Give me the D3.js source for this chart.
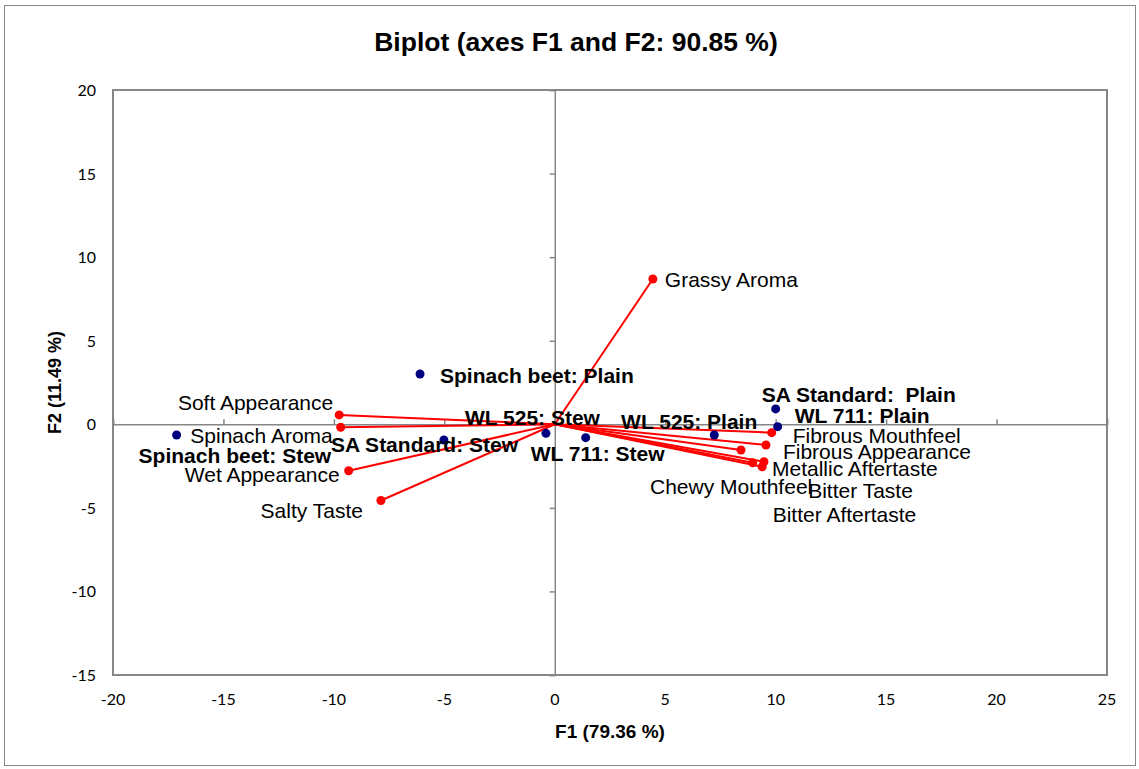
<!DOCTYPE html>
<html>
<head>
<meta charset="utf-8">
<script src="https://cdn.jsdelivr.net/npm/d3@7"></script>
<style>
  body { margin: 0; background: #fff; }
  svg { display: block; }
  text { font-family: "Liberation Sans", Arial, sans-serif; }
</style>
</head>
<body>
<svg id="chart" width="1139" height="769"></svg>
<script>
/*
BIPLOT
PCA biplot, observations and variables on F1 / F2
*/

// Observations (navy points)
var obsNames = ["Spinach beet: Plain", "SA Standard:  Plain", "WL 711: Plain", "WL 525: Plain",
  "WL 711: Stew", "WL 525: Stew", "SA Standard: Stew", "Spinach beet: Stew"];
var obsF1 = [-6.10, 10.00, 10.09, 7.22, 1.40, -0.40, -5.02, -17.12];
var obsF2 = [3.01, 0.92, -0.14, -0.64, -0.80, -0.54, -0.94, -0.64];

// Variables (red vectors)
var varNames = ["Grassy Aroma", "Soft Appearance", "Spinach Aroma", "Wet Appearance", "Salty Taste",
  "Fibrous Mouthfeel", "Fibrous Appearance", "Chewy Mouthfeel", "Metallic Aftertaste",
  "Bitter Taste", "Bitter Aftertaste"];
var varF1 = [4.44, -9.76, -9.69, -9.33, -7.87, 9.82, 9.56, 8.43, 9.47, 9.39, 8.96];
var varF2 = [8.69, 0.56, -0.18, -2.78, -4.56, -0.50, -1.24, -1.54, -2.24, -2.54, -2.30];

// Axis ticks
var xTicks = [-20, -15, -10, -5, 0, 5, 10, 15, 20, 25];
var yTicks = [-15, -10, -5, 0, 5, 10, 15, 20];

// Label placement (pixel offset from the point, text anchor)
var obsLabelPos = [[20, 2, "start"], [-14, -14, "start"], [17, -11, "start"], [43, -13, "end"],
  [-55, 16, "start"], [-81, -16, "start"], [-113, 5, "start"], [-38, 21, "start"]];
var varLabelPos = [[12, 1, "start"], [-6, -12, "end"], [-8, 8, "end"], [-9, 4, "end"], [-18, 10, "end"],
  [21, 3, "start"], [17, 7, "start"], [-91, 37, "start"], [8, 7, "start"],
  [46, 24, "start"], [20, 52, "start"]];

var AXIS_GREY = "#868686";

var svg = d3.select("#chart");

// Outer chart frame
svg.append("rect")
  .attr("x", 4.5)
  .attr("y", 5.5)
  .attr("width", 1131)
  .attr("height", 760)
  .style("fill", "none")
  .style("stroke", AXIS_GREY)
  .style("stroke-width", 1)
  ;

// Plot area
var plot = { left: 113, right: 1107, top: 90, bottom: 675 };

var x = d3.scaleLinear().domain([-20, 25]).range([plot.left, plot.right]);
var y = d3.scaleLinear().domain([-15, 20]).range([plot.bottom, plot.top]);

// Title
svg.append("text")
  .attr("x", 576)
  .attr("y", 51)
  .attr("text-anchor", "middle")
  .style("font-size", "26.5px")
  .style("font-weight", "bold")
  .text("Biplot (axes F1 and F2: 90.85 %)")
  ;

// Plot border
svg.append("rect")
  .attr("x", plot.left)
  .attr("y", plot.top)
  .attr("width", plot.right - plot.left)
  .attr("height", plot.bottom - plot.top)
  .style("fill", "none")
  .style("stroke", AXIS_GREY)
  .style("stroke-width", 2)
  ;

// Axes through the origin, ticks only
var xAxis = svg.append("g")
  .attr("class", "x axis")
  .attr("transform", translate(0, y(0)))
  .call(d3.axisTop(x).tickValues(xTicks).tickSize(5).tickFormat(""))
  ;

var yAxis = svg.append("g")
  .attr("class", "y axis")
  .attr("transform", translate(x(0), 0))
  .call(d3.axisLeft(y).tickValues(yTicks).tickSize(5).tickFormat(""))
  ;

svg.selectAll(".axis path, .axis line")
  .style("stroke", AXIS_GREY)
  .style("stroke-width", 1.5)
  ;

// Tick labels along the frame
svg.append("g").selectAll("text")
  .data(xTicks)
  .enter().append("text")
    .attr("x", function(d) { return x(d); })
    .attr("y", 705)
    .attr("text-anchor", "middle")
    .style("font-family", "Lato, 'Open Sans', sans-serif")
    .style("font-size", "16px")
    .text(function(d) { return d; })
    ;

svg.append("g").selectAll("text")
  .data(yTicks)
  .enter().append("text")
    .attr("x", 96)
    .attr("y", function(d) { return y(d) + 6; })
    .attr("text-anchor", "end")
    .style("font-family", "Lato, 'Open Sans', sans-serif")
    .style("font-size", "16px")
    .text(function(d) { return d; })
    ;

// Axis titles
svg.append("text")
  .attr("x", (plot.left + plot.right) / 2)
  .attr("y", 738)
  .attr("text-anchor", "middle")
  .style("font-size", "19px")
  .style("font-weight", "bold")
  .text("F1 (79.36 %)")
  ;

svg.append("text")
  .attr("transform", translate(61, (plot.top + plot.bottom) / 2) + " rotate(-90)")
  .attr("text-anchor", "middle")
  .style("font-size", "18px")
  .style("font-weight", "bold")
  .text("F2 (11.49 %)")
  ;

// Variable vectors
var vars = svg.append("g").attr("class", "variables");

vars.selectAll("line")
  .data(varNames)
  .enter().append("line")
    .attr("x1", x(0))
    .attr("y1", y(0))
    .attr("x2", function(d, i) { return x(varF1[i]); })
    .attr("y2", function(d, i) { return y(varF2[i]); })
    .style("stroke", "#ff0000")
    .style("stroke-width", 2)
    ;

vars.selectAll("circle")
  .data(varNames)
  .enter().append("circle")
    .attr("cx", function(d, i) { return x(varF1[i]); })
    .attr("cy", function(d, i) { return y(varF2[i]); })
    .attr("r", 4.5)
    .style("fill", "#ff0000")
    ;

// Observation points
var obs = svg.append("g").attr("class", "observations");

obs.selectAll("circle")
  .data(obsNames)
  .enter().append("circle")
    .attr("cx", function(d, i) { return x(obsF1[i]); })
    .attr("cy", function(d, i) { return y(obsF2[i]); })
    .attr("r", 4.5)
    .style("fill", "#00007f")
    ;

// Labels
vars.selectAll("text")
  .data(varNames)
  .enter().append("text")
    .attr("x", function(d, i) { return x(varF1[i]) + varLabelPos[i][0]; })
    .attr("y", function(d, i) { return y(varF2[i]) + varLabelPos[i][1]; })
    .attr("dy", "0.35em")
    .attr("text-anchor", function(d, i) { return varLabelPos[i][2]; })
    .style("font-size", "21px")
    .style("fill", "#000")
    .text(function(d) { return d; })
    ;

obs.selectAll("text")
  .data(obsNames)
  .enter().append("text")
    .attr("x", function(d, i) { return x(obsF1[i]) + obsLabelPos[i][0]; })
    .attr("y", function(d, i) { return y(obsF2[i]) + obsLabelPos[i][1]; })
    .attr("dy", "0.35em")
    .attr("text-anchor", function(d, i) { return obsLabelPos[i][2]; })
    .style("font-size", "21px")
    .style("font-weight", "bold")
    .style("white-space", "pre")
    .style("fill", "#000")
    .text(function(d) { return d; })
    ;

function translate(x, y) {
  return "translate(" + x + " " + y + ")";
}
</script>
</body>
</html>
